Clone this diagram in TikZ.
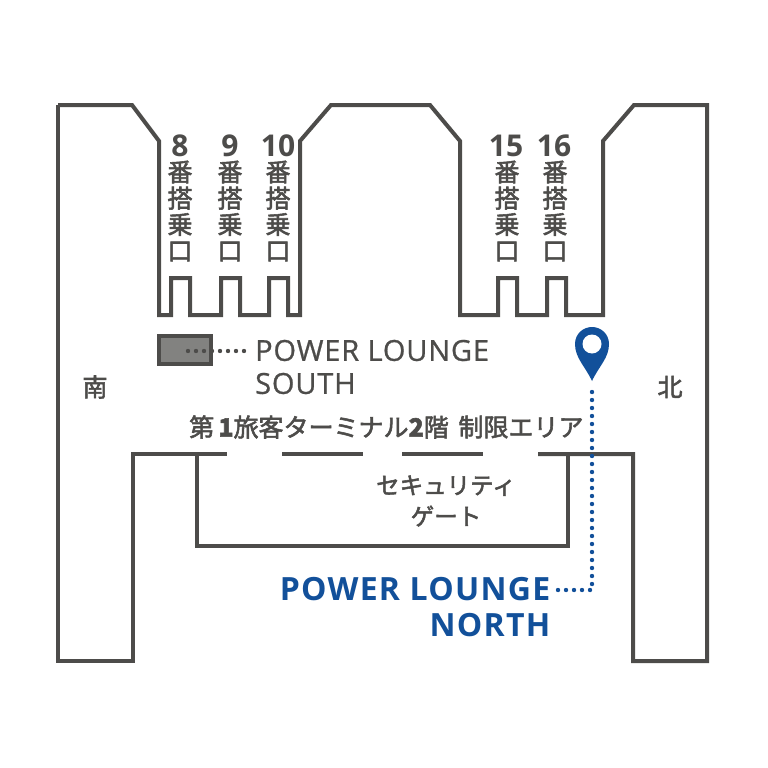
\documentclass[tikz,border=0pt]{standalone}
\usepackage{fontspec}
\setmainfont{Noto Sans CJK JP}
\newfontfamily\medf[FakeBold=2.2]{Noto Sans CJK JP}
\newfontfamily\latinf{Open Sans}
\newfontfamily\latinm[FakeBold=0.8]{Open Sans}
\definecolor{wallc}{HTML}{4D4C4A}
\definecolor{bluec}{HTML}{12509A}
\tikzset{
 wall/.style={draw=wallc,line width=4pt,line join=miter},
 lbl/.style={text=wallc,inner sep=0pt,font=\medf\fontsize{25}{25}\selectfont},
 gate/.style={text=wallc,inner sep=0pt,align=center,font=\medf\fontsize{25}{26.2}\selectfont},
 gatenum/.style={text=wallc,inner sep=0pt,font=\latinf\bfseries\fontsize{30}{30}\selectfont},
 dots/.style={line cap=round,line width=4.4pt,dash pattern=on 0pt off 8pt},
}
\begin{document}
\begin{tikzpicture}[x=1pt,y=-1pt]
\useasboundingbox (0,0) rectangle (768,768);
\draw[wall] (58,105) -- (132,105) -- (159,141) -- (159,315) -- (171,315) -- (171,278) -- (190,278) -- (190,315) -- (221,315) -- (221,278) -- (240,278) -- (240,315) -- (269,315) -- (269,278) -- (288,278) -- (288,315) -- (300,315) -- (300,141) -- (331,105) -- (430,105) -- (460,141) -- (460,315) -- (498,315) -- (498,278) -- (517,278) -- (517,315) -- (547,315) -- (547,278) -- (566,278) -- (566,315) -- (603,315) -- (603,141) -- (634,105) -- (707,105) -- (707,661) -- (633,661) -- (633,454) -- (538,454);
\draw[wall] (58,105) -- (58,661) -- (133,661) -- (133,454) -- (227,454);
\draw[wall] (282,454) -- (363,454);
\draw[wall] (402,454) -- (483,454);
\draw[wall] (197,454) -- (197,546) -- (568,546) -- (568,454);
\node[draw=wallc,fill=wallc!70,line width=4pt,minimum width=52pt,minimum height=28pt,inner sep=0pt] (box) at (184.5,350) {};
\coordinate (s1) at (188,351);
\coordinate (s2) at (246,351);
\draw[dots,wallc] (s1) -- (s2);
\foreach \n/\x/\xn/\t in {a/180/180/8,b/230/230/9,c/278/278/10,d/507/506/15,e/555/554/16}{
 \node[gatenum] (num\n) at (\xn,146) {\t};
 \node[gate,anchor=north] (gate\n) at (\x,160.5) {番\\搭\\乗\\口};
}
\node[lbl,anchor=west,font=\latinm\addfontfeature{LetterSpace=2.9}\fontsize{29}{33}\selectfont,align=left] (south) at (255,367) {POWER LOUNGE\\SOUTH};
\node[lbl] (s) at (95,387) {南};
\node[lbl] (n) at (670,387) {北};
\node[lbl] (t1) at (319,427) {第\textbf{\,1}旅客ターミナル\textbf{2}階};
\node[lbl] (t2) at (521,427) {制限エリア};
\node[lbl,align=center,font=\medf\fontsize{23.5}{31}\selectfont] (sec) at (446,501) {セキュリティ\\ゲート};
\node[text=bluec,inner sep=0pt,anchor=east,align=right,font=\latinf\bfseries\addfontfeature{LetterSpace=4}\fontsize{32}{36}\selectfont] (north) at (550.5,607) {POWER LOUNGE\\NORTH};
\fill[bluec] (592,381) .. controls (585,366) and (575,358) .. (575,344) .. controls (575,334) and (583,327) .. (592,327) .. controls (601,327) and (609,334) .. (609,344) .. controls (609,358) and (599,366) .. (592,381) -- cycle;
\fill[white] (592,344) circle (9.5);
\coordinate (p1) at (592,392);
\coordinate (p2) at (592,590);
\coordinate (p3) at (557,590);
\draw[dots,bluec] (p1) -- (p2) -- (p3);
\end{tikzpicture}
\end{document}
